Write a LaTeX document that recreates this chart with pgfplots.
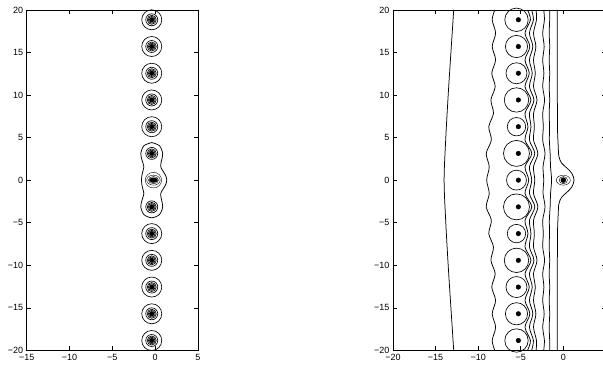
\documentclass[border=0pt]{standalone}
\usepackage{fontspec}
\setmainfont{Liberation Sans}
\usepackage{pgfplots}
\pgfplotsset{compat=1.18}
\pgfplotsset{
  mstyle/.style={scale only axis, height=340.3pt, ymin=-20, ymax=20,
    anchor=south west, tick align=inside, major tick length=4pt,
    axis line style={line width=0.9pt, black},
    every tick/.style={line width=0.5pt, black},
    ytick={-20,-15,...,20}, yticklabels={−20,−15,−10,−5,0,5,10,15,20},
    tick label style={font=\fontsize{9}{10}\selectfont, text=black},
  },
  cl/.style={black, line width=0.75pt, smooth, no markers},
  ring/.style={only marks, mark=o, mark options={line width=0.65pt, black}},
  dot/.style={only marks, mark=*, mark options={black, fill=black}},
}
\begin{document}
\begin{tikzpicture}
% ---------------- left panel ----------------
\begin{axis}[mstyle, at={(0pt,0pt)}, width=171.3pt, xmin=-15, xmax=5,
  xtick={-15,-10,...,5}, xticklabels={−15,−10,−5,0,5}]
% peanut contour around the three central poles
\addplot[cl] coordinates {(-0.40,4.42) (0.50,4.05) (0.88,3.14) (0.74,2.3) (0.64,1.6) (0.92,1.05) (1.22,0.55) (1.35,0) (1.22,-0.55) (0.92,-1.05) (0.64,-1.6) (0.74,-2.3) (0.88,-3.14) (0.50,-4.05) (-0.40,-4.42) (-1.31,-4.05) (-1.68,-3.14) (-1.52,-2.3) (-1.32,-1.6) (-1.45,-1.0) (-1.56,-0.5) (-1.6,0) (-1.56,0.5) (-1.45,1.0) (-1.32,1.6) (-1.52,2.3) (-1.68,3.14) (-1.31,4.05) (-0.40,4.42)};
% outer rings (|k|>=2)
\addplot[ring, mark size=10pt] coordinates {(-0.4,18.850) (-0.4,15.708) (-0.4,12.566) (-0.4,9.425) (-0.4,6.283) (-0.4,-6.283) (-0.4,-9.425) (-0.4,-12.566) (-0.4,-15.708) (-0.4,-18.850)};
% inner rings (all k != 0)
\addplot[ring, mark size=6pt] coordinates {(-0.4,18.850) (-0.4,15.708) (-0.4,12.566) (-0.4,9.425) (-0.4,6.283) (-0.4,3.142) (-0.4,-3.142) (-0.4,-6.283) (-0.4,-9.425) (-0.4,-12.566) (-0.4,-15.708) (-0.4,-18.850)};
\addplot[ring, mark size=4.5pt] coordinates {(-0.4,18.850) (-0.4,15.708) (-0.4,12.566) (-0.4,9.425) (-0.4,6.283) (-0.4,3.142) (-0.4,-3.142) (-0.4,-6.283) (-0.4,-9.425) (-0.4,-12.566) (-0.4,-15.708) (-0.4,-18.850)};
\addplot[ring, mark size=3.3pt] coordinates {(-0.4,18.850) (-0.4,15.708) (-0.4,12.566) (-0.4,9.425) (-0.4,6.283) (-0.4,3.142) (-0.4,-3.142) (-0.4,-6.283) (-0.4,-9.425) (-0.4,-12.566) (-0.4,-15.708) (-0.4,-18.850)};
\addplot[dot, mark size=2.3pt] coordinates {(-0.4,18.850) (-0.4,15.708) (-0.4,12.566) (-0.4,9.425) (-0.4,6.283) (-0.4,3.142) (-0.4,-3.142) (-0.4,-6.283) (-0.4,-9.425) (-0.4,-12.566) (-0.4,-15.708) (-0.4,-18.850)};
% central elongated pole
\addplot[ring, mark size=7.8pt, mark options={xscale=1.05}] coordinates {(-0.2,0)};
\addplot[ring, mark size=5pt, mark options={xscale=1.35}] coordinates {(-0.2,0)};
\addplot[ring, mark size=3.6pt, mark options={xscale=1.4}] coordinates {(-0.2,0)};
\addplot[dot, mark size=2.4pt, mark options={xscale=1.7}] coordinates {(-0.2,0)};
\end{axis}
% ---------------- right panel ----------------
\begin{axis}[mstyle, at={(366.3pt,0pt)}, width=212.9pt, xmin=-20, xmax=5,
  xtick={-20,-15,...,5}, xticklabels={−20,−15,−10,−5,0,{}}]
% far left contour
\addplot[cl] coordinates {(-12.87,20) (-13.2,15) (-13.52,10) (-13.8,5) (-14.0,0) (-13.8,-5) (-13.52,-10) (-13.2,-15) (-12.87,-20)};
% wavy contour left of the poles
\addplot[cl] coordinates {(-8.05,20) (-8.35,18.850) (-7.95,17.279) (-8.35,15.708) (-7.95,14.137) (-8.4,12.566) (-8.0,10.996) (-8.5,9.425) (-8.2,7.854) (-8.75,6.283) (-8.45,4.712) (-9.05,3.142) (-8.7,1.571) (-9.0,0) (-8.7,-1.571) (-9.05,-3.142) (-8.45,-4.712) (-8.75,-6.283) (-8.2,-7.854) (-8.5,-9.425) (-8.0,-10.996) (-8.4,-12.566) (-7.95,-14.137) (-8.35,-15.708) (-7.95,-17.279) (-8.35,-18.850) (-8.05,-20)};
% contours right of the poles
\addplot[cl] coordinates {(-4.2,20) (-3.86,18.850) (-4.5,17.279) (-3.93,15.708) (-4.5,14.137) (-4.0,12.566) (-4.5,10.996) (-3.80,9.425) (-4.5,7.854) (-4.15,6.283) (-4.5,4.712) (-3.70,3.142) (-4.5,1.571) (-4.06,0) (-4.5,-1.571) (-3.70,-3.142) (-4.5,-4.712) (-4.15,-6.283) (-4.5,-7.854) (-3.80,-9.425) (-4.5,-10.996) (-4.0,-12.566) (-4.5,-14.137) (-3.93,-15.708) (-4.5,-17.279) (-3.86,-18.850) (-4.2,-20)};
\addplot[cl] coordinates {(-3.72,20) (-3.51,18.850) (-3.98,17.279) (-3.58,15.708) (-3.98,14.137) (-3.65,12.566) (-3.98,10.996) (-3.45,9.425) (-3.98,7.854) (-3.80,6.283) (-3.98,4.712) (-3.35,3.142) (-3.98,1.571) (-3.71,0) (-3.98,-1.571) (-3.35,-3.142) (-3.98,-4.712) (-3.80,-6.283) (-3.98,-7.854) (-3.45,-9.425) (-3.98,-10.996) (-3.65,-12.566) (-3.98,-14.137) (-3.58,-15.708) (-3.98,-17.279) (-3.51,-18.850) (-3.72,-20)};
\addplot[cl] coordinates {(-3.2,20) (-3.15,18.850) (-3.5,17.279) (-3.22,15.708) (-3.5,14.137) (-3.29,12.566) (-3.5,10.996) (-3.09,9.425) (-3.5,7.854) (-3.40,6.283) (-3.5,4.712) (-2.99,3.142) (-3.5,1.571) (-3.35,0) (-3.5,-1.571) (-2.99,-3.142) (-3.5,-4.712) (-3.40,-6.283) (-3.5,-7.854) (-3.09,-9.425) (-3.5,-10.996) (-3.29,-12.566) (-3.5,-14.137) (-3.22,-15.708) (-3.5,-17.279) (-3.15,-18.850) (-3.2,-20)};
\addplot[cl] coordinates {(-2.3,20) (-2.22,18.850) (-2.42,17.279) (-2.25,15.708) (-2.42,14.137) (-2.28,12.566) (-2.42,10.996) (-2.2,9.425) (-2.42,7.854) (-2.35,6.283) (-2.42,4.712) (-2.15,3.142) (-2.38,1.571) (-2.3,0) (-2.38,-1.571) (-2.15,-3.142) (-2.42,-4.712) (-2.35,-6.283) (-2.42,-7.854) (-2.2,-9.425) (-2.42,-10.996) (-2.28,-12.566) (-2.42,-14.137) (-2.25,-15.708) (-2.42,-17.279) (-2.22,-18.850) (-2.3,-20)};
\addplot[cl] coordinates {(-1.58,20) (-1.6,18.850) (-1.66,17.279) (-1.6,15.708) (-1.66,14.137) (-1.6,12.566) (-1.66,10.996) (-1.6,9.425) (-1.66,7.854) (-1.62,6.283) (-1.64,4.712) (-1.55,3.142) (-1.5,1.571) (-1.38,0) (-1.5,-1.571) (-1.55,-3.142) (-1.64,-4.712) (-1.62,-6.283) (-1.66,-7.854) (-1.6,-9.425) (-1.66,-10.996) (-1.6,-12.566) (-1.66,-14.137) (-1.6,-15.708) (-1.66,-17.279) (-1.6,-18.850) (-1.58,-20)};
\addplot[cl] coordinates {(-0.7,20) (-0.7,10) (-0.68,6) (-0.6,4) (-0.52,2.8) (-0.2,2.0) (0.45,1.4) (1.0,0.8) (1.26,0) (1.0,-0.8) (0.45,-1.4) (-0.2,-2.0) (-0.52,-2.8) (-0.6,-4) (-0.68,-6) (-0.7,-10) (-0.7,-20)};
% circles around the poles
\addplot[ring, mark size=9.96pt] coordinates {(-5.5,0)};
\addplot[ring, mark size=13.0pt] coordinates {(-5.5,3.142) (-5.5,-3.142)};
\addplot[ring, mark size=9.2pt] coordinates {(-5.5,6.283) (-5.5,-6.283)};
\addplot[ring, mark size=12.2pt] coordinates {(-5.5,9.425) (-5.5,-9.425)};
\addplot[ring, mark size=10.5pt] coordinates {(-5.5,12.566) (-5.5,-12.566)};
\addplot[ring, mark size=11.1pt] coordinates {(-5.5,15.708) (-5.5,-15.708)};
\addplot[ring, mark size=11.7pt] coordinates {(-5.5,18.850) (-5.5,-18.850)};
\addplot[dot, mark size=2.3pt] coordinates {(-5.28,18.850) (-5.28,15.708) (-5.28,12.566) (-5.28,9.425) (-5.28,6.283) (-5.28,3.142) (-5.28,0) (-5.28,-3.142) (-5.28,-6.283) (-5.28,-9.425) (-5.28,-12.566) (-5.28,-15.708) (-5.28,-18.850)};
% pole at the origin
\addplot[ring, mark size=5pt, mark options={xscale=1.4}] coordinates {(0,0)};
\addplot[ring, mark size=3.6pt, mark options={xscale=1.15}] coordinates {(0,0)};
\addplot[dot, mark size=2.5pt] coordinates {(0,0)};
\end{axis}
\pgfresetboundingbox
\useasboundingbox (-26.7pt,-15.7pt) rectangle (576.3pt,350.3pt);
\end{tikzpicture}
\end{document}
